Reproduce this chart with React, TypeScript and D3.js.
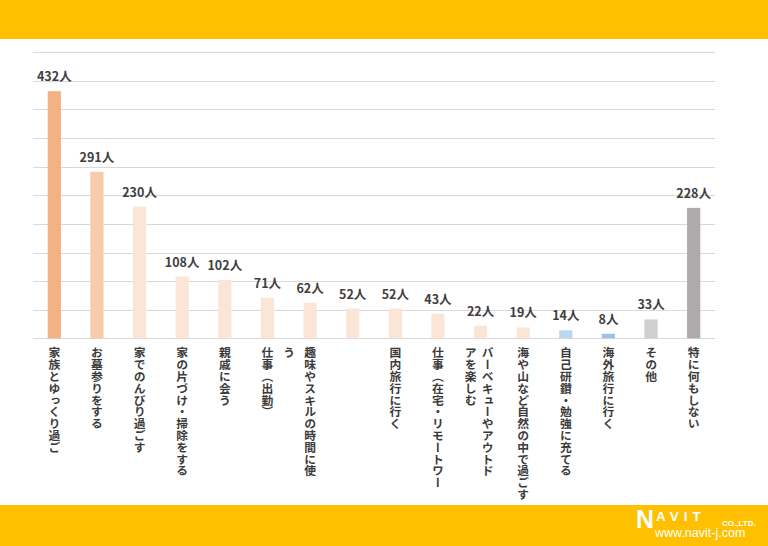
import React from "react";
import * as d3 from "d3";

const categories = [
  "家族とゆっくり過ごす",
  "お墓参りをする",
  "家でのんびり過ごす",
  "家の片づけ・掃除をする",
  "親戚に会う",
  "仕事（出勤）",
  "趣味やスキルの時間に使う",
  "(無題)",
  "国内旅行に行く",
  "仕事（在宅・リモートワーク）",
  "バーベキューやアウトドアを楽しむ",
  "海や山など自然の中で過ごす",
  "自己研鑽・勉強に充てる",
  "海外旅行に行く",
  "その他",
  "特に何もしない",
];

const values = [432, 291, 230, 108, 102, 71, 62, 52, 52, 43, 22, 19, 14, 8, 33, 228];

const labelColumns: string[][] = [
  ["家族とゆっくり過ご"],
  ["お墓参りをする"],
  ["家でのんびり過ごす"],
  ["家の片づけ・掃除をする"],
  ["親戚に会う"],
  ["仕事（出勤）"],
  ["趣味やスキルの時間に使", "う"],
  [],
  ["国内旅行に行く"],
  ["仕事（在宅・リモートワー"],
  ["バーベキューやアウトド", "アを楽しむ"],
  ["海や山など自然の中で過ごす"],
  ["自己研鑽・勉強に充てる"],
  ["海外旅行に行く"],
  ["その他"],
  ["特に何もしない"],
];

const barColors = [
  "#F4B183", "#F8CBAD", "#FBE5D6", "#FBE5D6", "#FBE5D6", "#FBE5D6", "#FBE5D6", "#FBE5D6",
  "#FBE5D6", "#FBE5D6", "#FBE5D6", "#FBE5D6", "#BDD7EE", "#9DC3E6", "#D0CECE", "#AEAAAA",
];

const yTicks = [0, 50, 100, 150, 200, 250, 300, 350, 400, 450, 500];
const unit = "人";

const W = 768;
const H = 546;
const FONT = "'Noto Sans CJK JP', 'Noto Sans', sans-serif";

export default function App() {
  const x = d3
    .scaleBand<number>()
    .domain(d3.range(categories.length))
    .range([33, 715])
    .paddingInner(0.69)
    .paddingOuter(0.345);
  const y = d3.scaleLinear().domain([0, 500]).range([338.3, 52.3]);

  const colOffsets = (i: number, n: number): number[] => {
    if (n === 1) return [0];
    if (i === 6) return [0, -21];
    return [7, -10];
  };

  return (
    <svg
      width={W}
      height={H}
      style={{ position: "fixed", left: 0, top: 0, background: "#fff" }}
      fontFamily={FONT}
    >
      <rect x={0} y={0} width={W} height={39} fill="#FFC000" />
      <rect x={0} y={505} width={W} height={H - 505} fill="#FFC000" />

      {yTicks.map((t) => (
        <line
          key={t}
          x1={33}
          x2={715}
          y1={Math.round(y(t)) + 0.5}
          y2={Math.round(y(t)) + 0.5}
          stroke="#D9D9D9"
          strokeWidth={1}
        />
      ))}

      {values.map((v, i) => {
        const bx = x(i)!;
        const cx = bx + x.bandwidth() / 2;
        return (
          <g key={i}>
            <rect x={bx} y={y(v)} width={x.bandwidth()} height={y(0) - y(v)} fill={barColors[i]} />
            <text
              x={cx}
              y={y(v) - 10}
              textAnchor="middle"
              fontSize={12.5}
              fontWeight={700}
              fill="#404040"
            >
              {v}
              {unit}
            </text>
            {labelColumns[i].map((col, k) => (
              <text
                key={k}
                x={cx + colOffsets(i, labelColumns[i].length)[k]}
                y={347}
                fontSize={11.8}
                fontWeight={700}
                fill="#3a3a3a"
                style={{ writingMode: "vertical-rl" } as React.CSSProperties}
              >
                {col}
              </text>
            ))}
          </g>
        );
      })}

      <g fill="#fff" fontFamily="'Liberation Sans', Arial, sans-serif" fontWeight={700}>
        <text x={636} y={528} fontSize={25}>N</text>
        <text x={656} y={520.5} fontSize={13.5} letterSpacing={5}>AVIT</text>
        <text x={722} y={525.5} fontSize={8}>CO.,LTD.</text>
        <text x={655} y={537} fontSize={12.5} fontWeight={400}>www.navit-j.com</text>
      </g>
    </svg>
  );
}
